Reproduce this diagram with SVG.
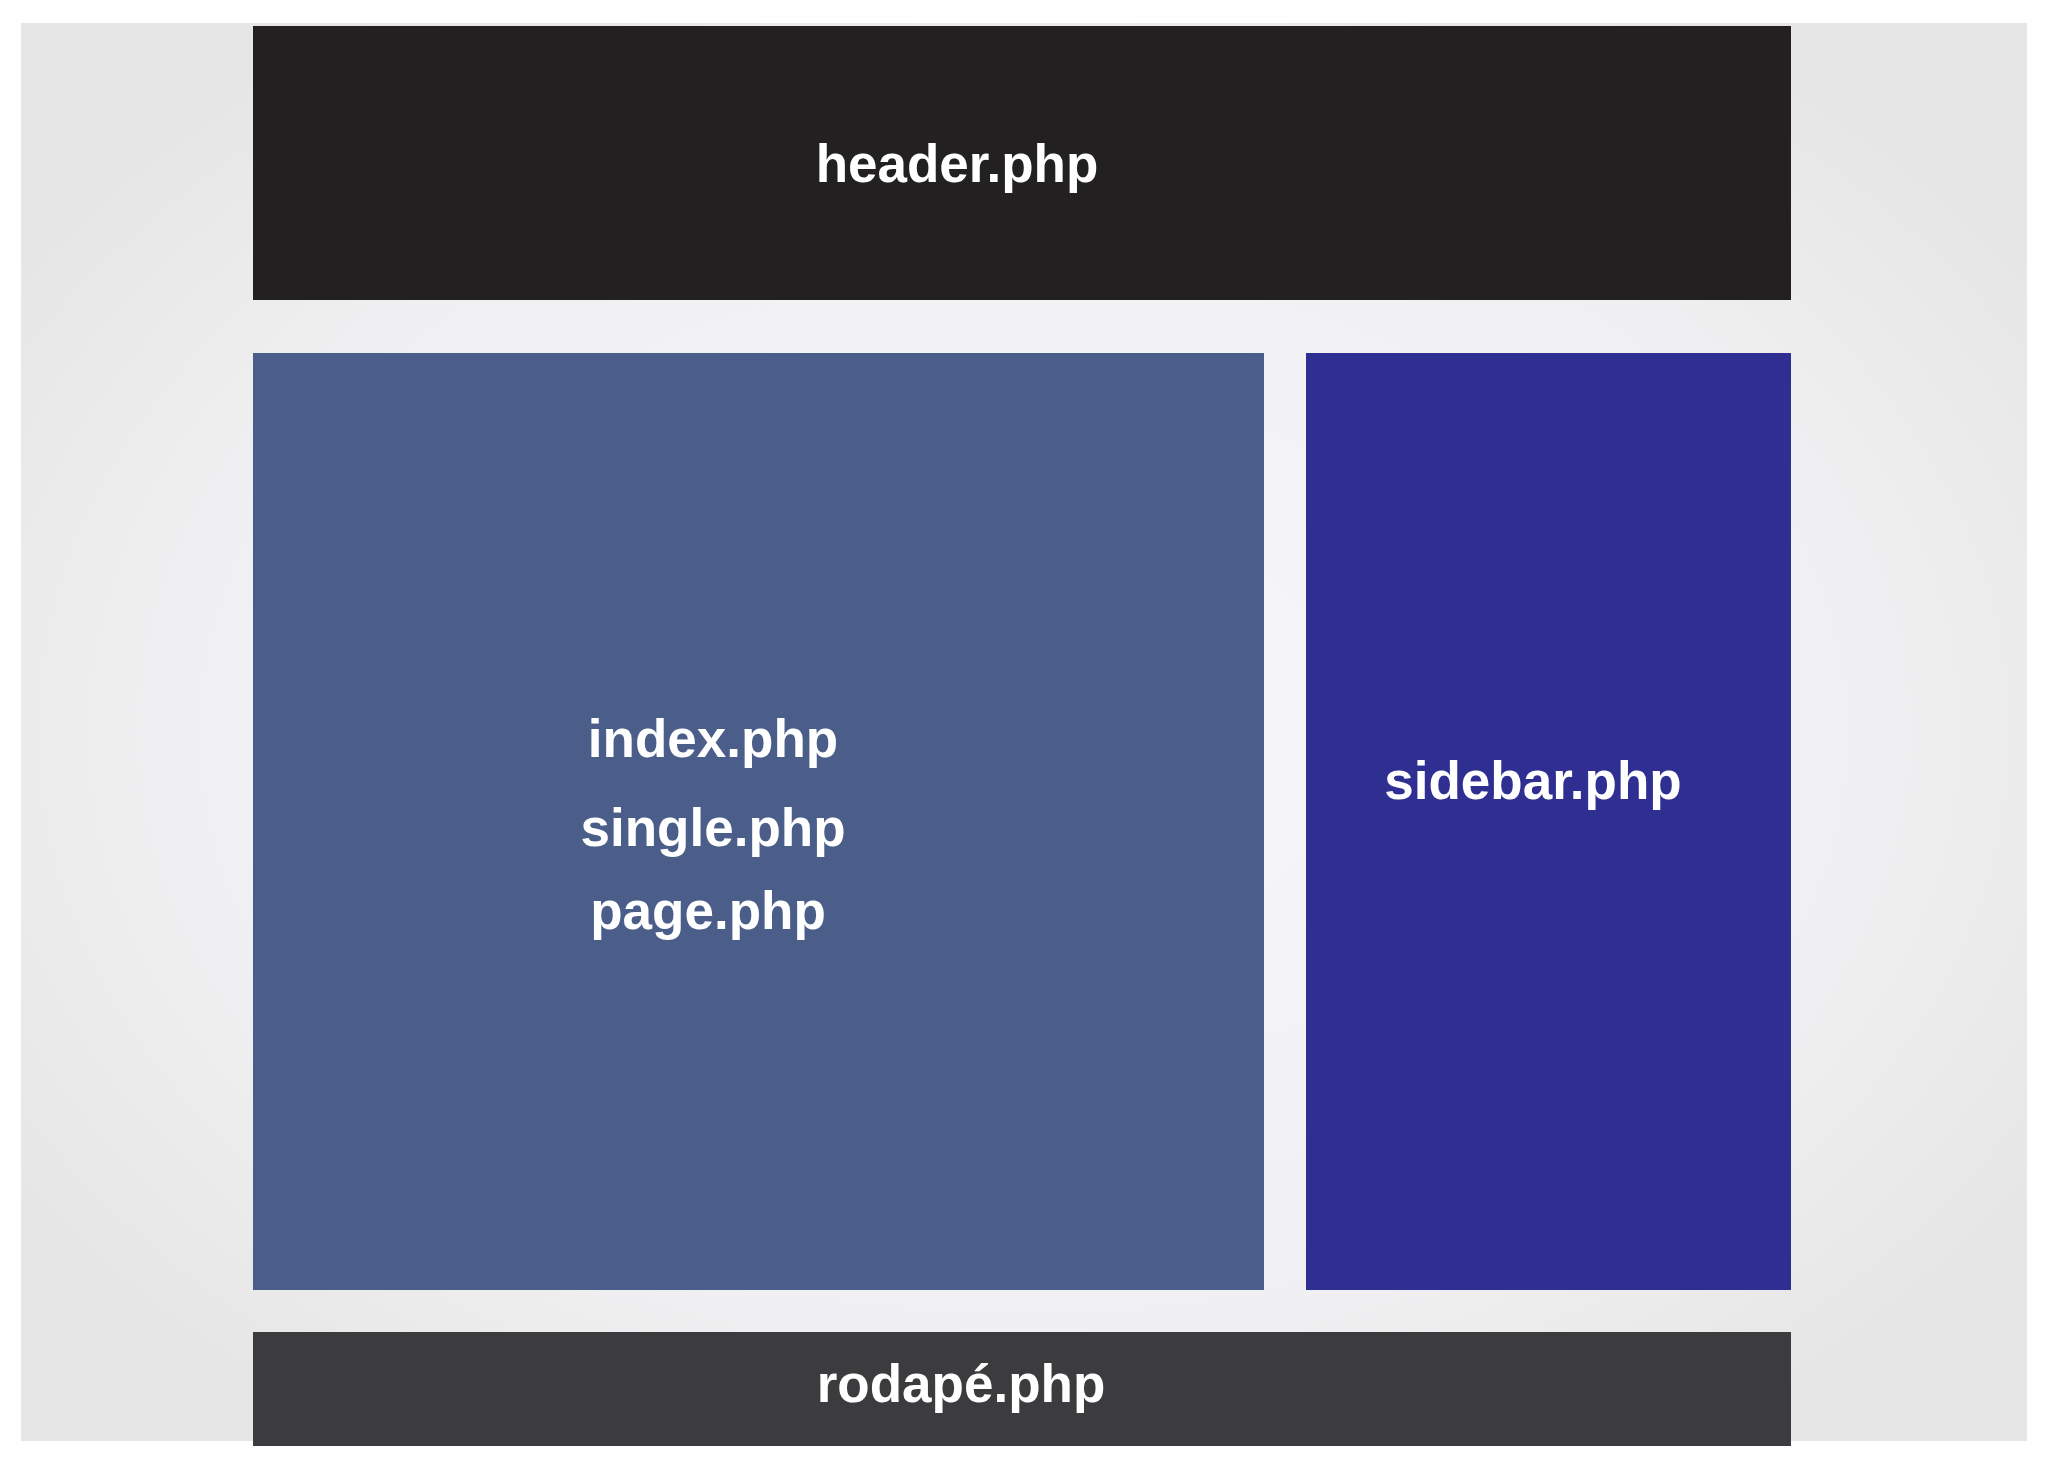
<svg xmlns="http://www.w3.org/2000/svg" width="2048" height="1461" viewBox="0 0 2048 1461">
<defs>
<radialGradient id="bg" cx="50%" cy="50%" r="60%">
<stop offset="0" stop-color="#f7f7f9"/><stop offset="0.7" stop-color="#f0f0f2"/><stop offset="1" stop-color="#e6e6e6"/>
</radialGradient>
<style>
text{font-family:"Liberation Sans",Arial,sans-serif;font-weight:bold;fill:#ffffff;font-size:53px;text-anchor:middle;dominant-baseline:central}
</style>
</defs>
<rect width="2048" height="1461" fill="#ffffff"/>
<rect x="21" y="23" width="2006" height="1418" fill="url(#bg)"/>
<g id="header"><rect x="253" y="26" width="1538" height="274" fill="#232021"/><text x="957" y="163">header.php</text></g>
<g id="main"><rect x="253" y="353" width="1011" height="937" fill="#4a5e89"/>
<text x="713" y="738">index.php</text><text x="713" y="827">single.php</text><text x="708" y="910">page.php</text></g>
<g id="sidebar"><rect x="1306" y="353" width="485" height="937" fill="#2f2e91"/><text x="1533" y="780">sidebar.php</text></g>
<g id="footer"><rect x="253" y="1332" width="1538" height="114" fill="#3c3b3d"/><text x="961" y="1383">rodapé.php</text></g>
<g id="connectors"/>
</svg>
